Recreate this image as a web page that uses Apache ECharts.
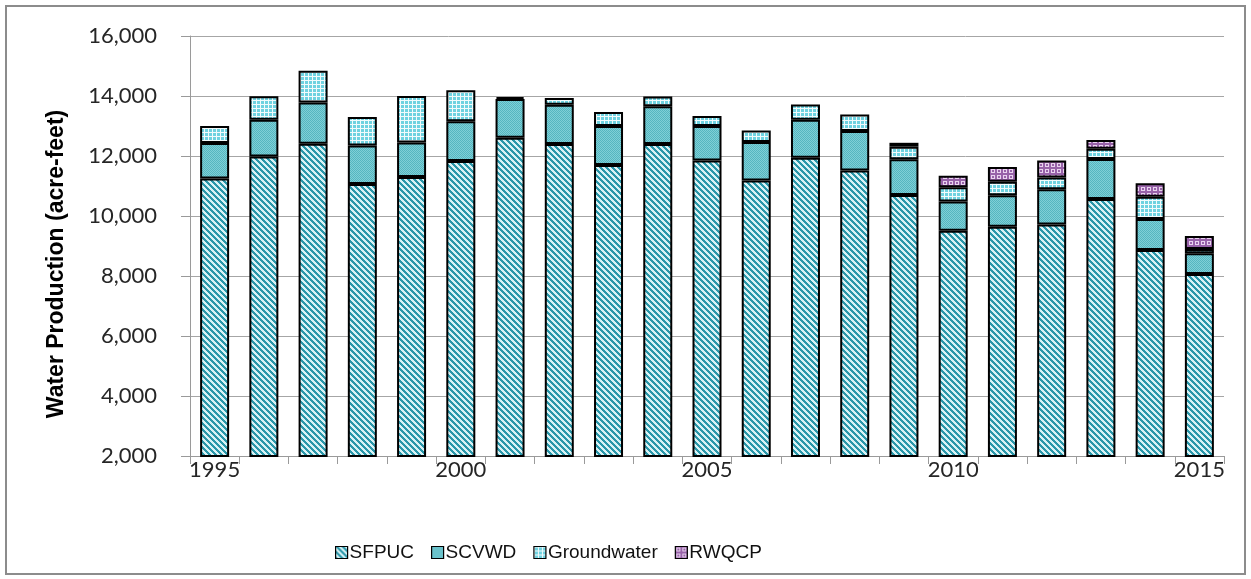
<!DOCTYPE html>
<html>
<head>
<meta charset="utf-8">
<style>
  html, body { margin: 0; padding: 0; background: #fff; }
  #chart { width: 1251px; height: 579px; }
</style>
<script src="https://cdn.jsdelivr.net/npm/echarts@6/dist/echarts.min.js"></script>
</head>
<body>
<div id="chart"></div>
<script>
// Annual water production by source, acre-feet
const years = ['1995','1996','1997','1998','1999','2000','2001','2002','2003','2004',
               '2005','2006','2007','2008','2009','2010','2011','2012','2013','2014','2015'];
const sfpuc = [11250, 11980, 12410, 11070, 11300, 11830, 12610, 12400, 11700, 12400,
               11850, 11180, 11940, 11520, 10700, 9510, 9640, 9720, 10570, 8870, 8070];
const scvwd = [1180, 1230, 1370, 1280, 1150, 1330, 1290, 1310, 1300, 1260,
               1150, 1290, 1270, 1310, 1190, 970, 1050, 1170, 1330, 1030, 690];
const groundwater = [570, 780, 1060, 950, 1550, 1030, 60, 220, 470, 320,
                     330, 380, 510, 550, 420, 480, 450, 390, 340, 740, 140];
const rwqcp = [null, null, null, null, null, null, null, null, null, null,
               null, null, null, null, 130, 380, 490, 570, 290, 450, 430];
const yTicks = { min: 2000, max: 16000, step: 2000 };

// Small tiled canvases used as fill patterns
function makeTile(size, painter) {
  const c = document.createElement('canvas');
  c.width = size; c.height = size;
  const ctx = c.getContext('2d');
  for (let y = 0; y < size; y++) {
    for (let x = 0; x < size; x++) {
      ctx.fillStyle = painter(x, y);
      ctx.fillRect(x, y, 1, 1);
    }
  }
  return c;
}
const stripeTile = makeTile(6, (x, y) => (((x - y) % 6 + 6) % 6) < 3 ? '#2a97aa' : '#d9f2f5');
const dotTile = makeTile(2, (x, y) => (x + y) % 2 === 0 ? '#55b6c0' : '#80cfd6');
const gridTile = makeTile(4, (x, y) => (x === 0 || y === 0) ? '#f2fbfc' : '#6fd2e0');
const ringTile = makeTile(6, (x, y) => {
  const dx = x - 2.5, dy = y - 2.5;
  const d = Math.sqrt(dx * dx + dy * dy);
  return (d > 1.2 && d < 2.4) ? '#e9d3ef' : '#9863a9';
});
const pat = t => ({ image: t, repeat: 'repeat' });

const chart = echarts.init(document.getElementById('chart'), null, { renderer: 'canvas' });

function seriesOf(name, data, tile) {
  return {
    name: name,
    type: 'bar',
    stack: 'total',
    data: data,
    barWidth: 29,
    itemStyle: { color: pat(tile), borderColor: '#000', borderWidth: 2 },
    emphasis: { disabled: true }
  };
}

chart.setOption({
  animation: false,
  backgroundColor: '#fff',
  grid: { left: 190, right: 27, top: 36, bottom: 123, containLabel: false },
  legend: {
    left: 330,
    top: 538,
    itemWidth: 12,
    itemHeight: 12,
    itemGap: 17,
    icon: 'rect',
    itemStyle: { borderColor: '#000', borderWidth: 1.2 },
    textStyle: { fontFamily: 'Liberation Sans, Arial, sans-serif', fontSize: 19, color: '#111', padding: [0, 0, 0, -3] },
    data: ['SFPUC', 'SCVWD', 'Groundwater', 'RWQCP']
  },
  xAxis: {
    type: 'category',
    data: years,
    boundaryGap: true,
    axisLine: { lineStyle: { color: '#9a9a9a', width: 1 } },
    axisTick: { show: true, interval: 0, length: 8, lineStyle: { color: '#9a9a9a' } },
    axisLabel: {
      interval: 4,
      margin: 3,
      fontFamily: 'Lato, sans-serif',
      fontSize: 22,
      color: '#262626'
    },
    splitLine: { show: false }
  },
  yAxis: {
    type: 'value',
    min: yTicks.min,
    max: yTicks.max,
    interval: yTicks.step,
    axisLine: { show: true, lineStyle: { color: '#9a9a9a', width: 1 } },
    axisTick: { show: true, length: 9, lineStyle: { color: '#9a9a9a' } },
    splitLine: { show: true, lineStyle: { color: '#a6a6a6', width: 1 } },
    axisLabel: {
      margin: 33,
      fontFamily: 'Lato, sans-serif',
      fontSize: 22,
      color: '#262626',
      formatter: v => v.toLocaleString('en-US')
    }
  },
  graphic: [
    {
      type: 'rect',
      shape: { x: 6, y: 6, width: 1239, height: 568 },
      style: { fill: 'none', stroke: '#8c8c8c', lineWidth: 2 },
      silent: true
    },
    {
      type: 'text',
      x: 57,
      y: 264,
      rotation: Math.PI / 2,
      style: {
        text: 'Water Production (acre-feet)',
        font: 'bold 23px "Liberation Sans", Arial, sans-serif',
        fill: '#000',
        align: 'center',
        verticalAlign: 'middle'
      },
      silent: true
    }
  ],
  series: [
    seriesOf('SFPUC', sfpuc, stripeTile),
    seriesOf('SCVWD', scvwd, dotTile),
    seriesOf('Groundwater', groundwater, gridTile),
    seriesOf('RWQCP', rwqcp, ringTile)
  ]
});
</script>
</body>
</html>
